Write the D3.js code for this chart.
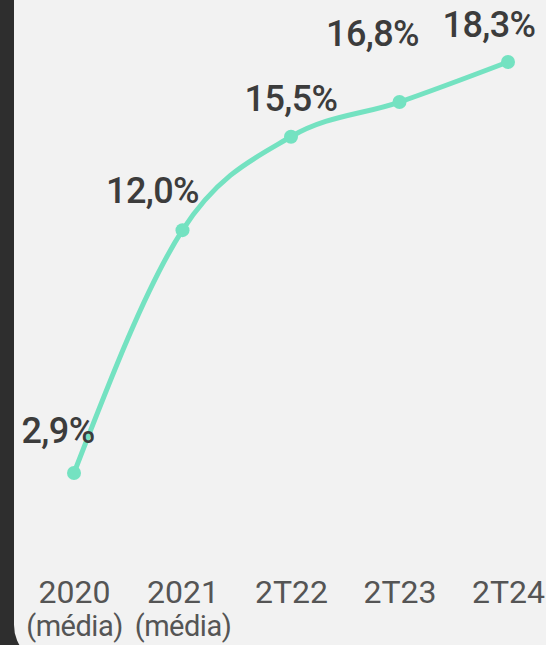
<!DOCTYPE html>
<html>
<head>
<meta charset="utf-8">
<script src="https://cdn.jsdelivr.net/npm/d3@7"></script>
<style>
  html, body { margin: 0; padding: 0; background: #2e2e2e; }
  svg { display: block; }
</style>
</head>
<body>
<svg id="chart" width="546" height="645"></svg>
<script>
// Share over time (%)
const periods = ["2020", "2021", "2T22", "2T23", "2T24"];
const periodNotes = ["(média)", "(média)", "", "", ""];
const shareValues = [2.9, 12.0, 15.5, 16.8, 18.3];
const valueLabels = ["2,9%", "12,0%", "15,5%", "16,8%", "18,3%"];

// Per-label offset of the value text from its point [dx, dy]
const labelShift = [[-16, -30], [-30, -27], [0, -26], [-27, -56], [-19, -25]];

const W = 546, H = 645;
const svg = d3.select("#chart");

// Dark side strip, light panel with a rounded lower-left corner
svg.append("rect").attr("x", 0).attr("y", 0).attr("width", W).attr("height", H).attr("fill", "#2e2e2e");
svg.append("rect")
  .attr("x", 14).attr("y", -60)
  .attr("width", W + 60).attr("height", H + 80)
  .attr("rx", 40).attr("ry", 40)
  .attr("fill", "#f2f2f2");

const x = d3.scalePoint().domain(periods).range([74, 508]);
const y = d3.scaleLinear().domain(d3.extent(shareValues)).range([473, 62]);

const data = periods.map((p, i) => ({ p, v: shareValues[i], label: valueLabels[i], note: periodNotes[i], shift: labelShift[i] }));

const line = d3.line()
  .x(d => x(d.p))
  .y(d => y(d.v))
  .curve(d3.curveMonotoneX);

svg.append("path")
  .datum(data)
  .attr("d", line)
  .attr("fill", "none")
  .attr("stroke", "#74e2c1")
  .attr("stroke-width", 5)
  .attr("stroke-linecap", "round");

svg.selectAll("circle.pt")
  .data(data)
  .join("circle")
  .attr("class", "pt")
  .attr("cx", d => x(d.p))
  .attr("cy", d => y(d.v))
  .attr("r", 7)
  .attr("fill", "#74e2c1");

svg.selectAll("text.val")
  .data(data)
  .join("text")
  .attr("class", "val")
  .attr("x", d => x(d.p) + d.shift[0])
  .attr("y", d => y(d.v) + d.shift[1])
  .attr("text-anchor", "middle")
  .attr("font-family", "Roboto, sans-serif")
  .attr("font-weight", 500)
  .attr("font-size", 36)
  .attr("letter-spacing", -0.6)
  .attr("fill", "#3c3c3c")
  .text(d => d.label);

// Category axis without a domain line or ticks
const axis = svg.append("g")
  .attr("transform", "translate(0,603)")
  .call(d3.axisBottom(x).tickSize(0).tickPadding(0).tickFormat(() => ""));
axis.select(".domain").remove();

const ticks = axis.selectAll(".tick");
ticks.append("text")
  .attr("y", 0)
  .attr("text-anchor", "middle")
  .attr("font-family", "Roboto, sans-serif")
  .attr("font-size", 32)
  .attr("fill", "#555555")
  .text(d => d);
ticks.append("text")
  .attr("y", 33)
  .attr("text-anchor", "middle")
  .attr("font-family", "Roboto, sans-serif")
  .attr("font-size", 29)
  .attr("letter-spacing", -0.5)
  .attr("fill", "#555555")
  .text((d, i) => periodNotes[i]);
</script>
</body>
</html>
